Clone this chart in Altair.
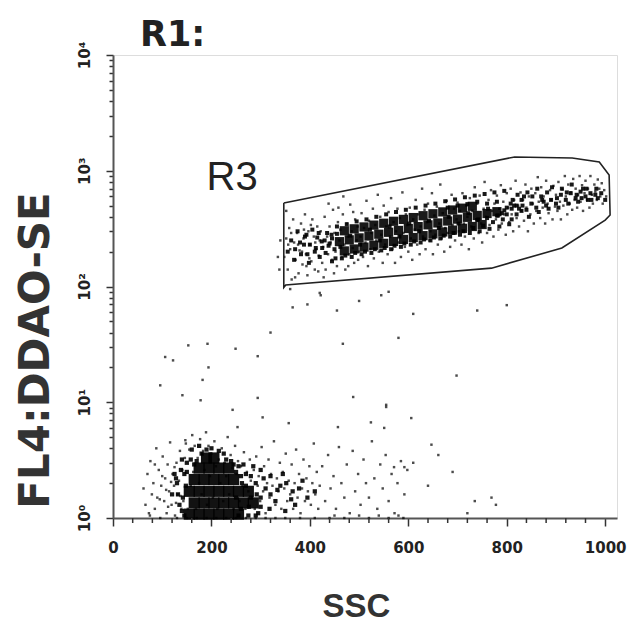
import altair as alt
import pandas as pd

# ---------------- data ----------------
# darkest part of the R3 population (SSC, FL4)
core_r3 = [
    (460,244),(480,253),(500,263),(520,273),(540,283),(560,294),(580,305),(600,317),(620,329),
    (640,341),(660,354),(680,368),(700,382),(720,396),(740,411),(760,427),(780,443),
    (470,303),(490,315),(510,327),(530,339),(550,352),(570,366),(590,380),(610,394),(630,409),
    (650,425),(670,441),(690,458),(710,475),(730,493),
    (470,203),(490,211),(510,219),(530,227),(550,236),(570,245),(590,255),(610,265),(630,275),
    (650,285),(670,296),(690,307),(710,318),(730,330),(750,343),
]
# medium-density halo of the R3 population (SSC, FL4)
mid_r3 = [
    (400,230),(410,200),(415,265),(425,215),(430,250),(420,180),(435,290),(445,165),(455,330),(465,175),
    (475,345),(485,180),(495,365),(505,190),(515,380),(525,195),(535,400),(545,205),(555,420),(565,210),
    (575,440),(585,220),(595,460),(605,230),(615,480),(625,240),(635,500),(645,250),(655,520),(665,260),
    (675,545),(685,270),(695,565),(705,280),(715,590),(725,290),(735,610),(745,300),(755,630),(765,315),
    (775,650),(785,330),(795,670),(805,345),(815,500),(820,420),(830,560),(840,460),(850,520),(860,480),
    (870,600),(880,500),(890,560),(900,520),(910,620),(920,560),(930,640),(940,580),(950,660),(960,600),
    (970,640),(980,620),(810,380),(825,470),(845,400),(865,440),(885,470),(905,480),(925,520),(945,540),
    (965,560),(985,580),(380,240),(390,270),(370,210),(395,190),(808,520),(835,600),(875,540),(955,700),
    (355,200),(362,250),(368,170),(375,300),(382,190),(388,230),(393,280),(398,160),(405,310),(412,215),
    (418,290),(424,245),(432,195),(438,225),(444,280),(452,175),(462,220),(472,185),(482,275),(492,195),
    (502,230),(512,200),(522,310),(532,210),(542,250),(552,215),(562,330),(572,225),(582,270),(592,235),
    (602,350),(612,245),(622,300),(632,255),(642,370),(652,265),(662,320),(672,275),(682,400),(692,290),
    (702,350),(712,300),(722,430),(732,320),(742,380),(752,335),(762,470),(772,360),(782,410),(792,380),
    (812,560),(822,620),(832,500),(842,650),(852,600),(862,700),(872,560),(882,650),(892,720),(902,580),
    (912,700),(922,650),(932,760),(942,620),(952,580),(962,700),(972,560),(982,700),(992,640),(1000,560),
    (440,235),(445,260),(450,210),(455,285),(795,455),(800,480),(790,430),(810,470),(820,500),(830,450),
    (760,520),(780,540),(740,540),(720,515),(700,500),(680,480),(740,375),(760,390),(780,410),(800,420),
]
# sparser events of the R3 population (SSC, FL4)
scatter_r3 = [
    (348,180),(352,260),(355,140),(358,320),(360,210),(363,115),(366,380),(368,240),(371,170),(374,290),
    (377,130),(379,205),(382,350),(385,155),(387,260),(390,420),(392,190),(395,125),(397,300),(400,230),
    (403,165),(405,380),(408,270),(410,140),(413,210),(415,330),(418,185),(420,250),(352,450),(362,290),
    (370,120),(376,230),(384,200),(393,150),(402,340),(411,240),(417,135),(356,230),(388,310),(399,175),
    (422,300),(425,160),(427,220),(430,400),(432,140),(435,270),(437,190),(440,330),(442,240),(445,170),
    (447,460),(450,290),(452,200),(455,150),(457,360),(460,250),(462,310),(465,180),(467,420),(470,230),
    (472,140),(475,350),(477,270),(480,190),(482,510),(485,300),(487,215),(490,160),(492,380),(495,250),
    (497,330),(500,200),(428,120),(438,520),(449,130),(458,480),(468,600),(478,150),(488,440),(498,170),
    (503,270),(505,430),(508,180),(510,320),(513,240),(515,550),(518,150),(520,370),(523,210),(525,290),
    (528,470),(530,175),(533,340),(535,250),(538,620),(540,200),(543,400),(545,280),(548,160),(550,500),
    (553,230),(555,330),(558,190),(560,440),(563,270),(565,580),(568,210),(570,360),(573,160),(575,300),
    (578,470),(580,240),(583,390),(585,180),(588,650),(590,290),(593,220),(595,420),(598,340),(600,200),
    (603,480),(605,260),(608,170),(610,380),(613,310),(615,560),(618,230),(620,420),(623,190),(625,330),
    (628,700),(630,270),(633,460),(635,210),(638,360),(640,520),(643,250),(645,300),(648,640),(650,190),
    (653,410),(655,280),(658,490),(660,230),(663,350),(665,760),(668,260),(670,430),(673,200),(675,320),
    (678,550),(680,290),(683,400),(685,220),(688,620),(690,340),(693,470),(695,250),(698,380),(700,530),
    (703,300),(705,450),(708,230),(710,640),(713,350),(715,270),(718,500),(720,400),(723,210),(725,580),
    (728,330),(730,450),(733,260),(735,720),(738,380),(740,520),(743,290),(745,610),(748,350),(750,240),
    (753,470),(755,800),(758,400),(760,290),(763,560),(765,340),(768,680),(770,450),(773,270),(775,520),
    (778,380),(780,610),(783,310),(785,470),(788,750),(790,350),(793,540),(795,420),(798,280),(800,640),
    (803,480),(805,360),(808,700),(810,420),(813,300),(815,560),(818,820),(820,390),(823,500),(825,330),
    (828,650),(830,450),(833,560),(835,370),(838,760),(840,480),(843,300),(845,600),(848,420),(850,700),
    (853,520),(855,350),(858,640),(860,450),(863,880),(865,540),(868,390),(870,720),(873,480),(875,600),
    (878,350),(880,820),(883,520),(885,430),(888,680),(890,560),(893,380),(895,740),(898,490),(900,620),
    (903,450),(905,800),(908,540),(910,380),(913,690),(915,500),(918,900),(920,600),(923,420),(925,760),
    (928,520),(930,650),(933,460),(935,850),(938,560),(940,700),(943,480),(945,620),(948,900),(950,540),
    (953,750),(955,450),(958,640),(960,820),(963,560),(965,700),(968,480),(970,900),(973,620),(975,520),
    (978,760),(980,660),(983,560),(985,840),(988,700),(990,600),(993,780),(995,520),(998,680),(1002,600),
    (360,95),(395,70),(420,88),(455,62),(500,75),(560,90),(610,58),(740,62),(335,180),(340,250),(338,140),
]
# darkest part of the low population (SSC, FL4)
core_low = [
    (155,1.08),(175,1.08),(195,1.08),(215,1.08),(235,1.08),(255,1.08),
    (165,1.35),(185,1.35),(205,1.35),(225,1.35),(245,1.35),(265,1.35),(285,1.35),
    (155,1.7),(175,1.7),(195,1.7),(215,1.7),(235,1.7),(255,1.7),(275,1.7),
    (165,2.15),(185,2.15),(205,2.15),(225,2.15),(245,2.15),
    (175,2.7),(195,2.7),(215,2.7),(235,2.7),
    (190,3.3),(205,3.3),
]
# medium-density halo of the low population (SSC, FL4)
mid_low = [
    (260,1.2),(270,2.4),(280,1.5),(290,2.0),(300,1.25),(310,1.8),(320,2.3),(330,1.4),(340,1.9),(350,1.15),
    (135,1.3),(130,2.0),(138,2.6),(140,3.2),(150,3.0),(160,3.9),(175,4.2),(200,4.0),(225,3.6),(240,3.1),
    (255,2.8),(285,2.8),(300,2.6),(320,1.6),(345,2.4),(365,1.7),(370,1.3),(385,2.1),(120,1.6),(125,2.4),
    (250,1.5),(262,2.0),(276,1.25),(292,1.6),(306,2.2),(318,1.2),(334,1.75),(352,2.0),(362,1.45),(378,1.8),
    (395,1.5),(410,1.7),(140,1.15),(132,1.6),(128,2.2),(145,2.4),(158,3.2),(190,3.9),(215,3.8),(250,2.5),
    (265,2.9),(280,2.3),(230,3.2),(170,3.1),(145,1.05),(142,1.5),(148,1.9),(150,2.5),(165,2.9),(180,3.6),
    (260,2.3),(270,1.9),(295,1.1),(300,1.5),(245,2.9),(255,1.05),(275,1.05),(290,1.05),
]
# sparser events of the low population and stray events (SSC, FL4)
scatter_low = [
    (62,1.8),(66,1.3),(70,2.4),(73,1.1),(76,3.1),(79,1.6),(82,2.0),(85,1.2),(88,4.0),(90,1.5),
    (93,2.6),(96,1.0),(98,1.9),(101,3.4),(104,1.4),(106,2.2),(109,1.1),(111,2.9),(114,1.7),(116,4.5),
    (119,1.3),(121,2.4),(124,1.9),(126,1.05),(129,3.0),(131,1.6),(134,2.1),(136,3.8),(139,1.2),(141,2.6),
    (75,1.05),(95,1.45),(108,1.75),(118,2.05),(128,1.35),(137,1.55),(100,2.3),(85,2.9),(112,1.25),(125,2.75),
    (143,1.4),(146,3.3),(148,4.4),(152,1.2),(155,3.9),(158,1.9),(161,5.2),(163,2.5),(166,4.2),(169,1.2),
    (172,3.3),(175,2.0),(177,4.8),(180,1.6),(183,3.8),(186,2.6),(189,5.5),(191,1.3),(194,4.2),(197,2.3),
    (200,3.6),(203,1.5),(206,4.6),(209,2.8),(212,1.2),(215,3.2),(218,2.0),(221,4.0),(224,1.4),(227,3.0),
    (230,2.3),(233,5.0),(236,1.6),(239,3.5),(242,2.7),(245,1.2),(248,4.2),(251,2.4),(254,3.1),(257,1.4),
    (260,2.8),(263,1.9),(266,3.7),(269,1.2),(272,2.5),(275,1.7),(278,3.2),(280,2.1),
    (283,1.5),(286,2.6),(288,1.2),(291,3.4),(294,1.9),(296,2.3),(299,1.4),(302,4.1),(305,1.7),(307,2.8),
    (310,1.1),(313,2.0),(316,3.2),(318,1.5),(321,2.4),(324,1.9),(327,4.6),(330,1.3),(333,2.2),(336,1.7),
    (339,3.0),(342,1.2),(345,2.5),(348,1.8),(351,3.6),(354,1.4),(357,2.1),(360,1.6),(363,2.9),(366,1.2),
    (369,2.0),(372,3.9),(375,1.5),(378,2.4),(381,1.1),(384,1.8),(387,3.2),(390,1.4),(393,2.2),(396,1.7),
    (399,2.8),(402,1.3),(405,2.0),(408,4.4),(411,1.6),(414,2.5),(417,1.2),(420,1.9),
    (425,2.8),(431,1.4),(437,3.5),(442,1.8),(448,2.3),(453,1.2),(459,4.1),(464,2.0),(470,1.5),(475,2.9),
    (481,1.1),(487,3.8),(492,1.7),(498,2.4),(503,1.3),(509,3.2),(514,2.0),(520,1.5),(526,4.6),(531,2.2),
    (537,1.2),(543,2.9),(548,1.8),(554,3.5),(560,1.4),(566,2.4),(572,1.1),(578,2.0),(585,3.1),(592,1.6),
    (598,2.6),(450,1.05),(500,1.05),(540,1.05),(580,1.05),
    (640,1.9),(690,2.5),(735,1.4),(778,1.3),(610,3.0),(720,1.1),
    (130,1.0),(150,1.0),(170,1.0),(190,1.0),(210,1.0),(230,1.0),(250,1.0),(270,1.0),(290,1.0),(310,1.0),
    (330,1.0),(350,1.0),(380,1.0),(410,1.0),(440,1.0),(470,1.0),(520,1.0),(560,1.0),(590,1.0),
    (365,66),(320,40),(106,24.6),(122,23),(153,31),(192,32),(249,29),(294,25),(467,32),(580,36),
    (96,14),(141,11.5),(182,15.6),(194,20),(178,10.4),(294,10.9),(304,7.4),(243,8.6),(488,11.1),(524,6.7),
    (555,9.1),(606,7.3),(551,6.0),(457,6.1),(357,6.6),(147,4.7),(253,6.1),(571,2.75),(592,2.75),
    (647,4.3),(698,17),(800,69),(769,1.5),(661,3.5),(555,9.5),(422,84),(545,84),
]
# gate R3 polygon vertices
gate_ssc = [347, 816, 933, 988, 1008, 1010, 1000, 912, 769, 351, 347, 347]
gate_fl4 = [526, 1315, 1289, 1191, 919, 415, 375, 215, 144, 103, 98, 526]

x_major = [0, 200, 400, 600, 800, 1000]
x_minor = [40, 80, 120, 160, 240, 280, 320, 360, 440, 480, 520, 560, 640, 680, 720, 760, 840, 880, 920, 960]
y_ticks = [m * 10 ** d for d in range(4) for m in range(1, 10)] + [10000]

# ---------------- chart ----------------
FONT = "Liberation Sans"
WIDE = "DejaVu Sans"
H = 463

def pts(pairs):
    return pd.DataFrame(pairs, columns=["SSC", "FL4"])

x_enc = alt.X("SSC:Q",
              scale=alt.Scale(domain=[0, 1024], nice=False, zero=False),
              axis=alt.Axis(title="SSC", values=x_major, grid=False, labelOverlap=False, labelFlush=False,
                            format="d", tickSize=8,
                            tickColor="#333", tickWidth=1.5, domainColor="#555", domainWidth=2,
                            labelFont=WIDE, labelFontSize=15, labelFontWeight="bold", labelColor="#222",
                            labelPadding=14, titleFont=FONT, titleFontSize=33, titleFontWeight="bold",
                            titleColor="#333", titleX=243, titleY=88, titleBaseline="middle",
                            titleAnchor="middle"))
y_enc = alt.Y("FL4:Q",
              scale=alt.Scale(type="log", domain=[1, 10000], nice=False),
              axis=alt.Axis(title="FL4:DDAO-SE", values=y_ticks, grid=False, labelOverlap=False,
                            labelFlush=False,
                            labelExpr="datum.value == 1 ? '10⁰' : datum.value == 10 ? '10¹' : datum.value == 100 ? '10²' : datum.value == 1000 ? '10³' : datum.value == 10000 ? '10⁴' : ''",
                            tickSize={"condition": {"test": "indexof([1,10,100,1000,10000], datum.value) >= 0", "value": 7}, "value": 4},
                            tickColor="#333", tickWidth=1.5, domainColor="#555", domainWidth=2,
                            labelAngle=-90, labelAlign="center", labelBaseline="bottom",
                            labelFont=WIDE, labelFontSize=15, labelFontWeight="bold", labelColor="#222",
                            labelPadding=14, titleFont=WIDE, titleFontSize=42, titleFontWeight="bold",
                            titleColor="#333", titleX=-78, titleY=295, titleAngle=-90,
                            titleBaseline="middle", titleAlign="center"))

core_hi = alt.Chart(pts(core_r3)).mark_square(size=85, color="black", opacity=0.9).encode(x=x_enc, y=y_enc)
mid_hi = alt.Chart(pts(mid_r3)).mark_square(size=16, color="black", opacity=0.9).encode(x="SSC:Q", y="FL4:Q")
sc_hi = alt.Chart(pts(scatter_r3)).mark_square(size=6, color="black").encode(x="SSC:Q", y="FL4:Q")
core_lo = alt.Chart(pts(core_low)).mark_square(size=125, color="black", opacity=0.93).encode(x="SSC:Q", y="FL4:Q")
mid_lo = alt.Chart(pts(mid_low)).mark_square(size=18, color="black", opacity=0.9).encode(x="SSC:Q", y="FL4:Q")
sc_lo = alt.Chart(pts(scatter_low)).mark_square(size=6, color="black").encode(x="SSC:Q", y="FL4:Q")

minor = alt.Chart(pd.DataFrame({"SSC": x_minor})).mark_rule(color="#333", strokeWidth=1.5).encode(
    x="SSC:Q", y=alt.value(H), y2=alt.value(H + 5))

gate_df = pd.DataFrame({"SSC": gate_ssc, "FL4": gate_fl4, "i": list(range(len(gate_ssc)))})
gate = alt.Chart(gate_df).mark_line(color="#222", strokeWidth=1.6).encode(
    x="SSC:Q", y="FL4:Q", order="i:Q")

label_df = pd.DataFrame({"SSC": [190], "FL4": [860], "t": ["R3"]})
r3 = alt.Chart(label_df).mark_text(font=FONT, fontSize=40, color="#222", align="left",
                                   baseline="middle").encode(x="SSC:Q", y="FL4:Q", text="t:N")

chart = alt.layer(core_hi, mid_hi, sc_hi, core_lo, mid_lo, sc_lo, minor, gate, r3).properties(
    width=504, height=H,
    title=alt.TitleParams("R1:", anchor="start", frame="group", dx=27, dy=20, offset=8, font=WIDE,
                          fontSize=35, fontWeight="bold", color="#222"),
    autosize=alt.AutoSizeParams(type="none"),
    padding={"left": 113, "top": 55, "right": 17, "bottom": 111},
).configure_view(stroke="#555", strokeWidth=2).configure(background="white")

chart.save("out.html", embed_options={"renderer": "svg", "actions": False})
